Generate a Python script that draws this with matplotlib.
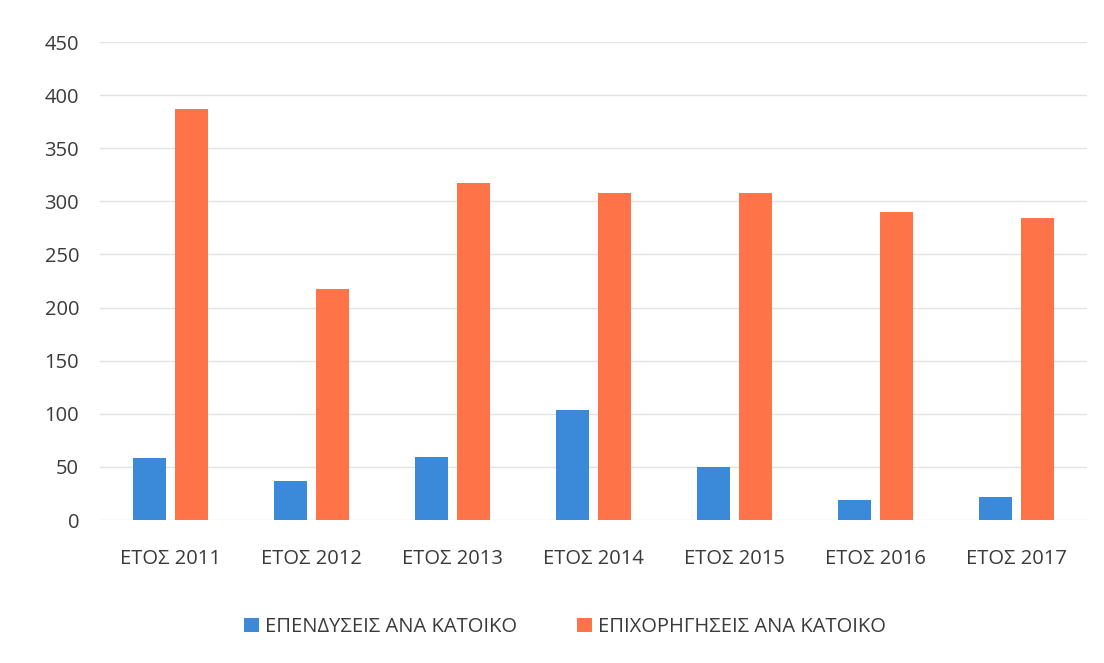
import matplotlib
matplotlib.use("Agg")
import matplotlib.pyplot as plt
import numpy as np

categories = ["ΕΤΟΣ 2011", "ΕΤΟΣ 2012", "ΕΤΟΣ 2013", "ΕΤΟΣ 2014", "ΕΤΟΣ 2015", "ΕΤΟΣ 2016", "ΕΤΟΣ 2017"]
investments = [58, 37, 59, 104, 50, 19, 22]
subsidies = [387, 217, 317, 308, 308, 290, 284]
series_names = ["ΕΠΕΝΔΥΣΕΙΣ ΑΝΑ ΚΑΤΟΙΚΟ", "ΕΠΙΧΟΡΗΓΗΣΕΙΣ ΑΝΑ ΚΑΤΟΙΚΟ"]
yticks = [0, 50, 100, 150, 200, 250, 300, 350, 400, 450]

plt.rcParams['font.family'] = ['Open Sans', 'DejaVu Sans']

fig = plt.figure(figsize=(11.04, 6.63), dpi=100)
ax = fig.add_axes([100/1104, 1-520/663, (1087-100)/1104, (520-42)/663])

x = np.arange(len(categories))
w = 0.234
off = 0.149
blue = '#3b8ad9'
orange = '#ff7349'
text_color = '#3a3a3a'
ax.bar(x - off, investments, w, color=blue, label=series_names[0], zorder=3)
ax.bar(x + off, subsidies, w, color=orange, label=series_names[1], zorder=3)

ax.set_ylim(0, 450)
ax.set_yticks(yticks)
ax.set_xlim(-0.5, 6.5)
ax.set_xticks(x)
ax.set_xticklabels(categories)
ax.grid(axis='y', color='#e2e2e2', linewidth=1, zorder=0)
for s in ax.spines.values():
    s.set_visible(False)
ax.tick_params(axis='both', length=0, labelsize=14.5, colors=text_color)
ax.tick_params(axis='x', pad=21)
ax.tick_params(axis='y', pad=15)

fig.legend(loc='center', bbox_to_anchor=(565/1104, 1-627/663), ncol=2, frameon=False,
           fontsize=14.5, handlelength=0.75, handleheight=0.75, handletextpad=0.3,
           columnspacing=3.0, labelcolor=text_color)

fig.savefig("out.png", dpi=100, facecolor='white')
